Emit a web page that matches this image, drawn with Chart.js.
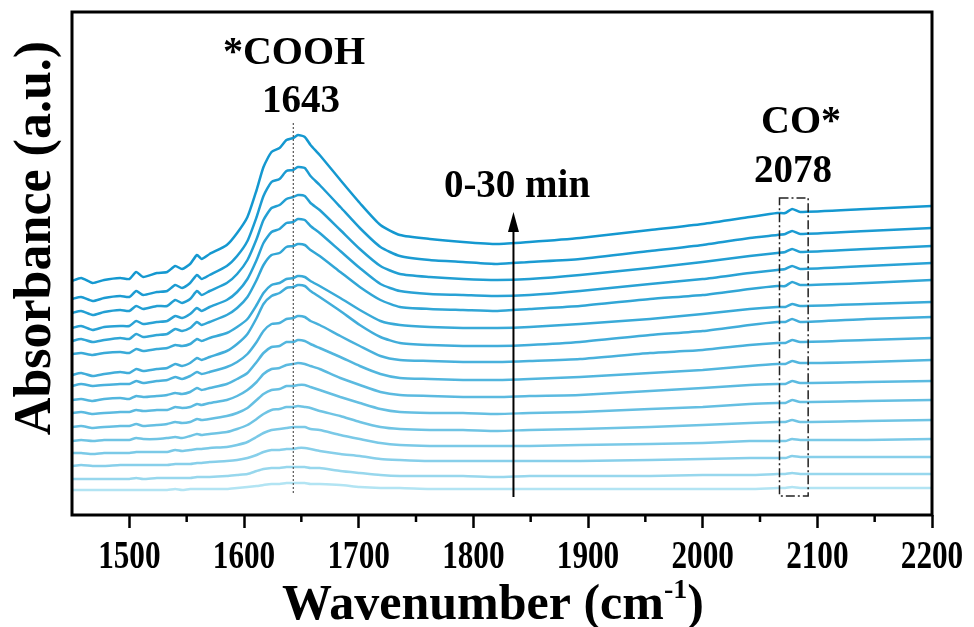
<!DOCTYPE html>
<html lang="en">
<head>
<meta charset="UTF-8">
<title>In situ spectra 0-30 min</title>
<script src="https://cdn.jsdelivr.net/npm/chart.js"></script>
<style>
    html, body { margin: 0; padding: 0; background: #fff; }
</style>
</head>
<body>
<canvas id="grafico" width="974" height="627"></canvas>
<script>
    // wavenumber grid (cm-1)
    var wavenumbers = [1450, 1458, 1468, 1478, 1492, 1500, 1506, 1512, 1524, 1533, 1540, 1546, 1553, 1559, 1563, 1570,
        1585, 1594, 1603, 1611, 1617, 1624, 1631, 1637, 1643, 1647, 1653, 1658, 1666, 1684, 1701, 1719,
        1736, 1762, 1791, 1821, 1849, 1893, 1954, 2000, 2041, 2065, 2072, 2078, 2085, 2143, 2200];

    // stacked absorbance (a.u., offset), one spectrum every 2 min
    var t0  = [25, 25, 25, 25, 25, 25, 25, 25, 25, 25, 26, 25, 26, 26, 26, 26, 26, 27, 28, 29, 30, 31, 31, 32, 32, 32, 32, 31, 31, 30, 28, 27, 27, 26, 26, 26, 26, 26, 26, 26, 26, 27, 27, 28, 27, 27, 27];
    var t2  = [36, 36, 36, 36, 36, 36, 37, 36, 37, 37, 37, 37, 37, 38, 38, 38, 39, 40, 41, 44, 46, 47, 47, 48, 48, 48, 48, 47, 47, 44, 42, 40, 39, 39, 39, 38, 39, 39, 39, 40, 40, 41, 41, 42, 41, 41, 41];
    var t4  = [49, 50, 49, 49, 50, 50, 50, 50, 50, 50, 51, 51, 51, 52, 52, 53, 54, 55, 57, 60, 63, 65, 65, 66, 66, 67, 67, 66, 64, 61, 59, 56, 55, 54, 54, 54, 54, 54, 55, 56, 57, 57, 57, 59, 58, 58, 58];
    var t6  = [62, 62, 61, 62, 62, 62, 63, 63, 63, 63, 65, 64, 65, 66, 66, 67, 68, 70, 73, 78, 82, 85, 86, 87, 88, 88, 88, 86, 85, 80, 76, 72, 70, 69, 69, 69, 69, 70, 71, 72, 74, 74, 74, 76, 75, 75, 76];
    var t8  = [74, 75, 74, 75, 75, 75, 77, 76, 76, 77, 78, 77, 79, 81, 80, 81, 83, 86, 90, 96, 101, 105, 106, 108, 108, 109, 108, 107, 104, 99, 93, 88, 86, 85, 85, 84, 85, 86, 88, 90, 92, 93, 93, 95, 93, 94, 95];
    var t10 = [88, 89, 87, 88, 89, 89, 91, 89, 90, 91, 93, 92, 93, 96, 95, 96, 99, 102, 107, 115, 121, 125, 126, 129, 129, 130, 130, 128, 125, 118, 112, 106, 103, 102, 102, 101, 102, 103, 106, 108, 111, 112, 112, 115, 113, 114, 115];
    var t12 = [102, 103, 101, 102, 103, 103, 105, 104, 105, 105, 108, 107, 108, 111, 110, 112, 115, 119, 125, 133, 141, 146, 147, 150, 151, 152, 151, 149, 146, 137, 130, 123, 120, 119, 118, 118, 119, 120, 124, 127, 130, 131, 131, 134, 132, 133, 134];
    var t14 = [115, 116, 114, 116, 117, 116, 119, 118, 119, 120, 122, 121, 123, 127, 125, 127, 131, 136, 142, 153, 162, 168, 169, 173, 173, 175, 174, 171, 167, 158, 149, 141, 137, 136, 135, 135, 136, 138, 142, 145, 149, 151, 151, 154, 152, 153, 155];
    var t16 = [129, 131, 129, 130, 131, 131, 134, 132, 134, 135, 138, 136, 139, 143, 141, 143, 148, 153, 161, 173, 184, 191, 192, 196, 197, 199, 198, 194, 190, 179, 169, 159, 155, 154, 153, 153, 154, 156, 162, 165, 170, 172, 172, 175, 173, 175, 177];
    var t18 = [140, 142, 139, 141, 143, 142, 146, 144, 146, 147, 151, 149, 152, 157, 155, 158, 164, 171, 181, 197, 211, 219, 222, 227, 228, 230, 229, 224, 218, 204, 190, 178, 172, 170, 169, 169, 170, 173, 180, 184, 190, 193, 193, 196, 193, 196, 198];
    var t20 = [161, 162, 160, 162, 163, 162, 166, 164, 166, 167, 170, 169, 171, 176, 174, 177, 182, 188, 196, 210, 222, 230, 232, 236, 237, 239, 238, 234, 229, 217, 205, 194, 190, 188, 187, 187, 188, 191, 196, 201, 206, 208, 208, 211, 209, 211, 213];
    var t22 = [174, 176, 173, 175, 177, 176, 181, 178, 180, 181, 186, 184, 187, 193, 190, 193, 200, 207, 218, 235, 250, 260, 262, 268, 269, 271, 270, 265, 259, 243, 228, 215, 208, 206, 205, 204, 206, 209, 216, 220, 226, 229, 229, 233, 230, 232, 235];
    var t24 = [187, 189, 185, 188, 189, 189, 194, 191, 193, 194, 199, 197, 201, 207, 204, 208, 215, 223, 236, 255, 272, 283, 286, 292, 293, 296, 295, 289, 282, 264, 247, 231, 224, 221, 220, 219, 220, 224, 231, 236, 242, 245, 246, 249, 246, 249, 252];
    var t26 = [202, 204, 200, 203, 205, 204, 209, 206, 209, 209, 215, 212, 216, 224, 220, 224, 232, 241, 255, 276, 295, 307, 310, 316, 318, 320, 319, 312, 305, 285, 266, 249, 241, 238, 236, 235, 236, 240, 247, 253, 259, 262, 263, 266, 263, 266, 269];
    var t28 = [216, 218, 214, 217, 219, 218, 224, 220, 223, 224, 230, 227, 232, 240, 236, 240, 249, 259, 274, 298, 319, 333, 336, 344, 345, 348, 347, 339, 330, 308, 287, 268, 259, 255, 253, 251, 253, 256, 264, 270, 277, 280, 281, 284, 281, 284, 287];
    var t30 = [234, 237, 232, 235, 237, 236, 243, 238, 242, 243, 249, 246, 251, 260, 256, 261, 270, 282, 298, 325, 348, 363, 367, 375, 377, 380, 378, 370, 360, 335, 312, 290, 280, 276, 273, 271, 273, 277, 285, 291, 298, 302, 302, 306, 303, 306, 309];

    var minutes = [0, 2, 4, 6, 8, 10, 12, 14, 16, 18, 20, 22, 24, 26, 28, 30];
    var spectra = [t0, t2, t4, t6, t8, t10, t12, t14, t16, t18, t20, t22, t24, t26, t28, t30];
    var xTicks = [1500, 1600, 1700, 1800, 1900, 2000, 2100, 2200];

    var serif = '"Liberation Serif", "Times New Roman", serif';

    // light blue (0 min) -> strong blue (30 min)
    function cor(i) {
        var t = Math.pow(i / (spectra.length - 1), 0.65);
        var r = Math.round(178 + (20 - 178) * t);
        var g = Math.round(228 + (152 - 228) * t);
        var b = Math.round(243 + (208 - 243) * t);
        return 'rgb(' + r + ',' + g + ',' + b + ')';
    }

    var datasets = [];
    for (var i = 0; i < spectra.length; i++) {
        datasets.push({
            label: minutes[i] + ' min',
            data: wavenumbers.map(function (w, k) { return { x: w, y: spectra[i][k] }; }),
            borderColor: cor(i),
            borderWidth: 2.5,
            pointRadius: 0,
            tension: 0.2,
            fill: false
        });
    }

    // frame, tick labels, titles and the marks on the peaks
    var enfeites = {
        id: 'enfeites',
        afterDraw: function (chart) {
            var ctx = chart.ctx;
            var a = chart.chartArea;
            var xs = chart.scales.x;
            var ys = chart.scales.y;
            ctx.save();

            ctx.strokeStyle = '#000';
            ctx.lineWidth = 3;
            ctx.strokeRect(a.left, a.top, a.right - a.left, a.bottom - a.top);

            // minor ticks
            ctx.lineWidth = 2.5;
            for (var v = 1550; v < 2200; v += 100) {
                var px = xs.getPixelForValue(v);
                ctx.beginPath();
                ctx.moveTo(px, a.bottom);
                ctx.lineTo(px, a.bottom + 7);
                ctx.stroke();
            }

            // tick labels (narrow, like the original)
            ctx.fillStyle = '#000';
            ctx.textAlign = 'center';
            ctx.textBaseline = 'alphabetic';
            ctx.font = 'bold 40px ' + serif;
            xTicks.forEach(function (t) {
                ctx.save();
                ctx.translate(xs.getPixelForValue(t), 568);
                ctx.scale(0.78, 1);
                ctx.fillText(String(t), 0, 0);
                ctx.restore();
            });

            // dotted line at 1643
            var x1643 = xs.getPixelForValue(1643);
            ctx.strokeStyle = '#555';
            ctx.lineWidth = 1.2;
            ctx.setLineDash([2, 2]);
            ctx.beginPath();
            ctx.moveTo(x1643, ys.getPixelForValue(392));
            ctx.lineTo(x1643, ys.getPixelForValue(22));
            ctx.stroke();

            // dash-dot box round 2078
            var bx1 = xs.getPixelForValue(2067), bx2 = xs.getPixelForValue(2092);
            var by1 = ys.getPixelForValue(317), by2 = ys.getPixelForValue(19);
            ctx.strokeStyle = '#222';
            ctx.lineWidth = 1.5;
            ctx.setLineDash([9, 3, 2, 3]);
            ctx.strokeRect(bx1, by1, bx2 - bx1, by2 - by1);
            ctx.setLineDash([]);

            // time arrow
            var ax = xs.getPixelForValue(1835);
            var ay1 = ys.getPixelForValue(18), ay2 = ys.getPixelForValue(303);
            ctx.strokeStyle = '#000';
            ctx.fillStyle = '#000';
            ctx.lineWidth = 2;
            ctx.beginPath();
            ctx.moveTo(ax, ay1);
            ctx.lineTo(ax, ay2 + 16);
            ctx.stroke();
            ctx.beginPath();
            ctx.moveTo(ax, ay2);
            ctx.lineTo(ax - 5.5, ay2 + 20);
            ctx.lineTo(ax + 5.5, ay2 + 20);
            ctx.closePath();
            ctx.fill();

            // labels
            ctx.font = 'bold 40px ' + serif;
            ctx.fillText('*COOH', 294, 64);
            ctx.fillText('CO*', 801, 133);
            ctx.font = 'bold 39px ' + serif;
            ctx.fillText('1643', 301, 112);
            ctx.fillText('2078', 793, 182);
            ctx.fillText('0-30 min', 517, 197);

            // x title with superscript
            var t1 = 'Wavenumber (cm', sup = '-1', t3 = ')';
            ctx.font = 'bold 50px ' + serif;
            var w1 = ctx.measureText(t1).width, w3 = ctx.measureText(t3).width;
            ctx.font = 'bold 28px ' + serif;
            var w2 = ctx.measureText(sup).width;
            var sx = 493 - (w1 + w2 + w3) / 2;
            ctx.textAlign = 'left';
            ctx.font = 'bold 50px ' + serif;
            ctx.fillText(t1, sx, 619);
            ctx.fillText(t3, sx + w1 + w2, 619);
            ctx.font = 'bold 28px ' + serif;
            ctx.fillText(sup, sx + w1, 598);

            // y title
            ctx.translate(50, 238);
            ctx.rotate(-Math.PI / 2);
            ctx.textAlign = 'center';
            ctx.font = 'bold 52px ' + serif;
            ctx.fillText('Absorbance (a.u.)', 0, 0);

            ctx.restore();
        }
    };

    new Chart(document.getElementById('grafico'), {
        type: 'line',
        data: { datasets: datasets },
        options: {
            responsive: false,
            animation: false,
            layout: { padding: { top: 12, right: 42, left: 72, bottom: 0 } },
            plugins: { legend: { display: false }, tooltip: { enabled: false } },
            scales: {
                x: {
                    type: 'linear',
                    min: 1450,
                    max: 2200,
                    afterBuildTicks: function (s) {
                        s.ticks = xTicks.map(function (v) { return { value: v }; });
                    },
                    afterFit: function (s) { s.height = 112; },
                    ticks: { display: false },
                    grid: { drawOnChartArea: false, color: '#000', tickLength: 13, tickWidth: 2.5 },
                    border: { display: false }
                },
                y: { display: false, min: 0, max: 503 }
            }
        },
        plugins: [enfeites]
    });
</script>
</body>
</html>
